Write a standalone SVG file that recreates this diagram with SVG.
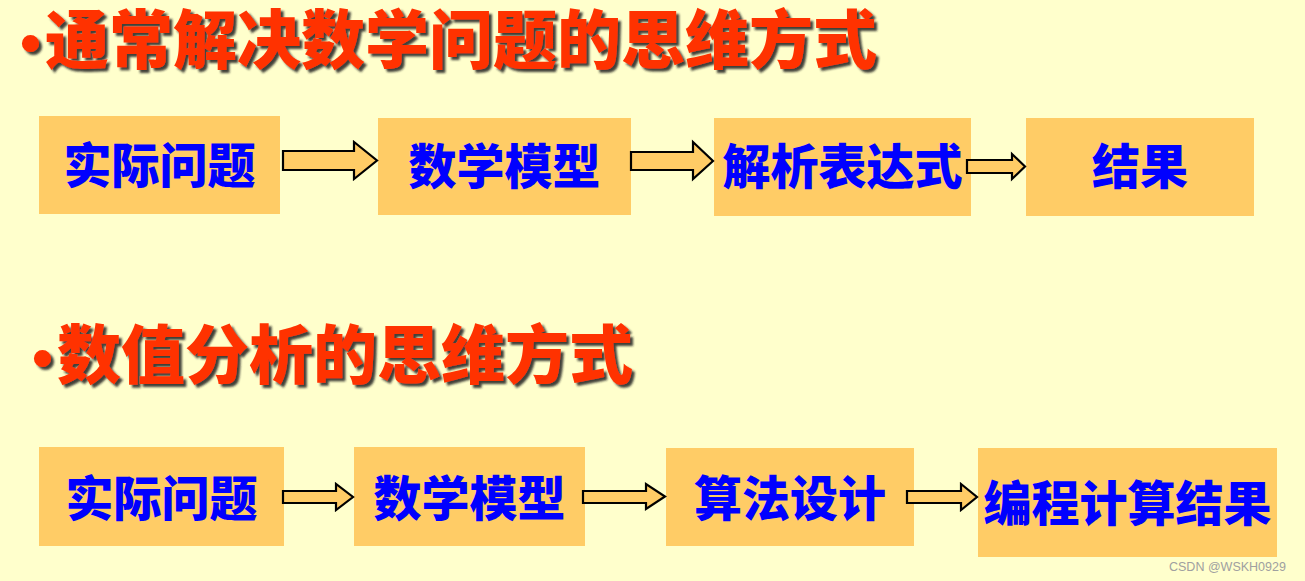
<svg xmlns="http://www.w3.org/2000/svg" width="1305" height="581" viewBox="0 0 1305 581">
<defs>
<style>
.box{fill:#FFCC66}
.lbl{font-family:"Noto Sans CJK SC","Noto Sans",sans-serif;font-weight:900;font-size:48px;fill:#0000FF;text-anchor:middle}
.title{font-family:"Noto Sans CJK SC","Noto Sans",sans-serif;font-weight:900;font-size:64px;fill:#FF3300}
.arrow{fill:#FFCC66;stroke:#000;stroke-width:2.2;stroke-linejoin:miter}
.wm{font-family:"Liberation Sans",Arial,sans-serif;font-size:12.5px;fill:#A0A0A0}
</style>
<filter id="sh" x="-5%" y="-20%" width="110%" height="150%">
<feDropShadow dx="3" dy="3" stdDeviation="1" flood-color="#222" flood-opacity="0.85"/>
</filter>
</defs>
<rect width="1305" height="581" fill="#FFFFCC"/>
<g id="title1" filter="url(#sh)">
<text class="title" x="45" y="63"><tspan x="20" font-family="'Liberation Sans',sans-serif" font-size="60">•</tspan><tspan x="45">通常解决数学问题的思维方式</tspan></text>
</g>
<g id="title2" filter="url(#sh)">
<text class="title" x="58" y="378"><tspan x="32" font-family="'Liberation Sans',sans-serif" font-size="60">•</tspan><tspan x="57">数值分析的思维方式</tspan></text>
</g>
<g id="r1n1"><rect class="box" x="39" y="116" width="241" height="98"/><text class="lbl" x="159.5" y="183">实际问题</text></g>
<g id="r1n2"><rect class="box" x="378" y="118" width="253" height="97"/><text class="lbl" x="504.5" y="184">数学模型</text></g>
<g id="r1n3"><rect class="box" x="714" y="118" width="257" height="98"/><text class="lbl" x="842.5" y="184">解析表达式</text></g>
<g id="r1n4"><rect class="box" x="1026" y="118" width="228" height="98"/><text class="lbl" x="1140" y="184">结果</text></g>
<g id="r2n1"><rect class="box" x="39" y="447" width="245" height="99"/><text class="lbl" x="161.5" y="516">实际问题</text></g>
<g id="r2n2"><rect class="box" x="354" y="447" width="231" height="99"/><text class="lbl" x="469.5" y="516">数学模型</text></g>
<g id="r2n3"><rect class="box" x="666" y="448" width="248" height="98"/><text class="lbl" x="790" y="516">算法设计</text></g>
<g id="r2n4"><rect class="box" x="978" y="448" width="299" height="109"/><text class="lbl" x="1127.5" y="521">编程计算结果</text></g>
<g id="connectors">
<polygon class="arrow" points="283,151 354,151 354,142 377,160.5 354,179 354,170 283,170"/>
<polygon class="arrow" points="631,152 693,152 693,142 713,161 693,179 693,170 631,170"/>
<polygon class="arrow" points="967,160 1012,160 1012,154 1025,166.5 1012,179 1012,173 967,173"/>
<polygon class="arrow" points="283,491 336,491 336,484 353,497 336,510 336,503 283,503"/>
<polygon class="arrow" points="583,491 646,491 646,484 665,496.5 646,509 646,503 583,503"/>
<polygon class="arrow" points="907,491 961,491 961,484 977,497 961,510 961,503 907,503"/>
</g>
<text class="wm" x="1169" y="571">CSDN @WSKH0929</text>
</svg>
